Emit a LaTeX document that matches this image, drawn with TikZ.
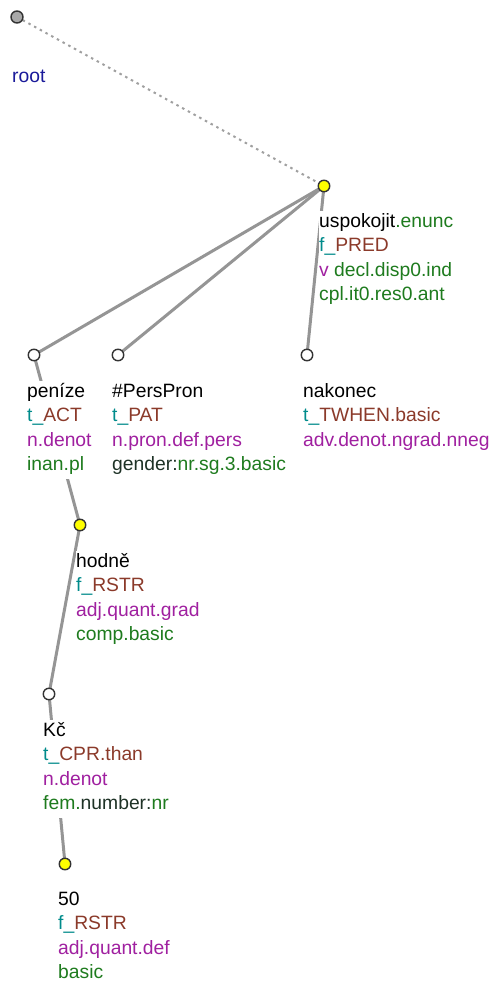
\documentclass[tikz,border=0pt]{standalone}
\usepackage{fontspec}
\setmainfont{Liberation Sans}
\definecolor{tfac}{HTML}{008B8B}
\definecolor{func}{HTML}{8B3A2A}
\definecolor{semc}{HTML}{A020A0}
\definecolor{gramc}{HTML}{1E7B1E}
\definecolor{darkg}{HTML}{1E3226}
\definecolor{rootc}{HTML}{1A1A9A}
\definecolor{edgec}{HTML}{959595}
\definecolor{dotc}{HTML}{A0A0A0}
\definecolor{rootfill}{HTML}{A8A8A8}
\definecolor{yel}{HTML}{FFFF00}
\tikzset{
  lbl/.style={anchor=base west, inner sep=0pt, fill=white, text height=16pt, text depth=8.5pt, font=\fontsize{19.3}{24}\selectfont},
  tnode/.style={circle, draw=black!80, line width=1.4pt, minimum size=11.5pt, inner sep=0pt},
  bound/.style={tnode, fill=white},
  focus/.style={tnode, fill=yel},
  rootnode/.style={tnode, fill=rootfill, minimum size=12pt},
  edge/.style={draw=edgec, line width=3pt},
  rootedge/.style={draw=dotc, line width=2pt, dash pattern=on 2.5pt off 4pt}
}
\begin{document}
\begin{tikzpicture}[x=1pt,y=-1pt]
\useasboundingbox (0,0) rectangle (491,985);
% node positions
\coordinate (pR) at (17,17);
\coordinate (pU) at (324,186);
\coordinate (pP) at (34,355);
\coordinate (pH) at (118,355);
\coordinate (pN) at (307,355);
\coordinate (pO) at (80,525);
\coordinate (pK) at (49,694);
\coordinate (pF) at (65,864);
% edges
\draw[rootedge] (pR) -- (pU);
\draw[edge] (pU) -- (pP);
\draw[edge] (pU) -- (pH);
\draw[edge] (pU) -- (pN);
\draw[edge] (pP) -- (pO);
\draw[edge] (pO) -- (pK);
\draw[edge] (pK) -- (pF);
% labels
\node[lbl, text=rootc] (lR) at (12,82) {root};

\node[lbl] (lU1) at (319,227) {uspokojit\textcolor{gramc}{.enunc}};
\node[lbl] (lU2) at (319,251.5) {\textcolor{tfac}{f\_}\textcolor{func}{PRED}};
\node[lbl] (lU3) at (319,276) {\textcolor{semc}{v} \textcolor{gramc}{decl.disp0.ind}};
\node[lbl] (lU4) at (319,300.5) {\textcolor{gramc}{cpl.it0.res0.ant}};

\node[lbl] (lP1) at (27,397) {peníze};
\node[lbl] (lP2) at (27,421.5) {\textcolor{tfac}{t\_}\textcolor{func}{ACT}};
\node[lbl] (lP3) at (27,446) {\textcolor{semc}{n.denot}};
\node[lbl] (lP4) at (27,470.5) {\textcolor{gramc}{inan.pl}};

\node[lbl] (lH1) at (112,397) {\#PersPron};
\node[lbl] (lH2) at (112,421.5) {\textcolor{tfac}{t\_}\textcolor{func}{PAT}};
\node[lbl] (lH3) at (112,446) {\textcolor{semc}{n.pron.def.pers}};
\node[lbl] (lH4) at (112,470.5) {\textcolor{darkg}{gender:}\textcolor{gramc}{nr.sg.3.basic}};

\node[lbl] (lN1) at (303,397) {nakonec};
\node[lbl] (lN2) at (303,421.5) {\textcolor{tfac}{t\_}\textcolor{func}{TWHEN.basic}};
\node[lbl] (lN3) at (303,446) {\textcolor{semc}{adv.denot.ngrad.nneg}};

\node[lbl] (lO1) at (76,567) {hodně};
\node[lbl] (lO2) at (76,591.5) {\textcolor{tfac}{f\_}\textcolor{func}{RSTR}};
\node[lbl] (lO3) at (76,616) {\textcolor{semc}{adj.quant.grad}};
\node[lbl] (lO4) at (76,640.5) {\textcolor{gramc}{comp.basic}};

\node[lbl] (lK1) at (43,736) {Kč};
\node[lbl] (lK2) at (43,760.5) {\textcolor{tfac}{t\_}\textcolor{func}{CPR.than}};
\node[lbl] (lK3) at (43,785) {\textcolor{semc}{n.denot}};
\node[lbl] (lK4) at (43,809.5) {\textcolor{gramc}{fem.}\textcolor{darkg}{number:}\textcolor{gramc}{nr}};

\node[lbl] (lF1) at (58,905) {50};
\node[lbl] (lF2) at (58,929.5) {\textcolor{tfac}{f\_}\textcolor{func}{RSTR}};
\node[lbl] (lF3) at (58,954) {\textcolor{semc}{adj.quant.def}};
\node[lbl] (lF4) at (58,978.5) {\textcolor{gramc}{basic}};
% tree nodes
\node[rootnode] (nR) at (pR) {};
\node[focus] (nU) at (pU) {};
\node[bound] (nP) at (pP) {};
\node[bound] (nH) at (pH) {};
\node[bound] (nN) at (pN) {};
\node[focus] (nO) at (pO) {};
\node[bound] (nK) at (pK) {};
\node[focus] (nF) at (pF) {};
\end{tikzpicture}
\end{document}
